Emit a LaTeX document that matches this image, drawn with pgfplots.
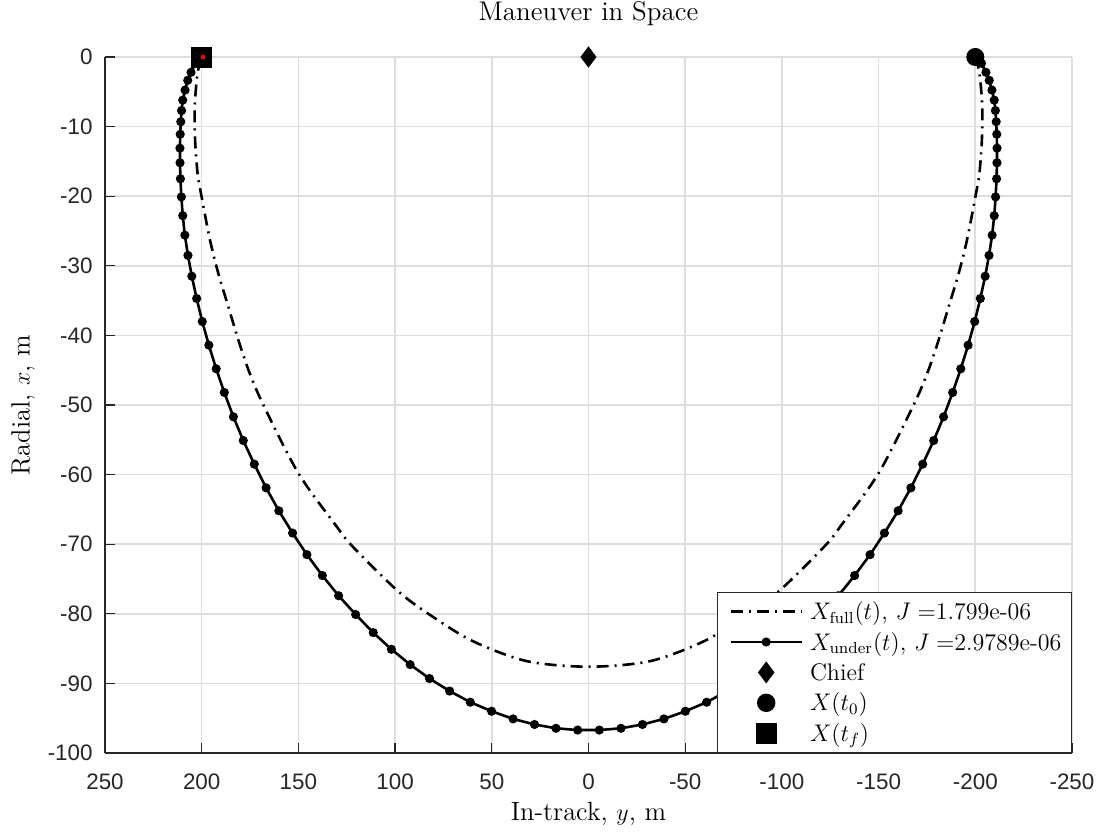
\documentclass[border=0pt]{standalone}
\usepackage{fontspec}
\usepackage{pgfplots}
\pgfplotsset{compat=1.18}
\newfontfamily\arial{Liberation Sans}
\definecolor{axgray}{rgb}{0.15,0.15,0.15}
\definecolor{gridgray}{rgb}{0.87,0.87,0.87}

% legend samples: a 35pt line, a line with a centred mark, a lone mark
\pgfplotsset{
  leg line/.style={legend image code/.code={\path (-3pt,0pt) (37pt,0pt);
    \draw[##1] (0pt,0pt) -- (35.5pt,0pt);}},
  leg linemark/.style={legend image code/.code={\path (-3pt,0pt) (37pt,0pt);
    \draw[##1] (0pt,0pt) -- (35.5pt,0pt);
    \draw[##1] plot coordinates {(17.75pt,0pt)};}},
  leg mark/.style={legend image code/.code={\path (-3pt,0pt) (37pt,0pt);
    \draw[##1] plot coordinates {(17.75pt,0pt)};}},
}

\begin{document}
\begin{tikzpicture}
\begin{axis}[
  scale only axis, width=483.5pt, height=348pt,
  x dir=reverse, xmin=-250, xmax=250, ymin=-100, ymax=0,
  axis x line*=bottom, axis y line*=left,
  axis line style={axgray, line width=0.8pt, -},
  xtick={-250,-200,...,250},
  xticklabels={-250,-200,-150,-100,-50,0,50,100,150,200,250},
  ytick={-100,-90,...,0},
  yticklabels={-100,-90,-80,-70,-60,-50,-40,-30,-20,-10,0},
  tick align=inside, major tick length=5pt,
  tick style={axgray, line width=0.6pt},
  grid=major, major grid style={gridgray, line width=0.8pt},
  ticklabel style={font=\arial\fontsize{11.2}{13}\selectfont, text=axgray},
  xticklabel style={inner sep=0pt, yshift=-10pt},
  yticklabel style={inner sep=0pt, xshift=-6pt},
  title={Maneuver in Space},
  title style={font=\fontsize{13.5}{16}\selectfont, yshift=5.9pt},
  xlabel={In-track, $y$, m}, ylabel={Radial, $x$, m},
  label style={font=\fontsize{13.2}{16}\selectfont},
  xlabel shift=3pt, ylabel shift=3pt,
  clip=false,
  legend cell align=left,
  legend style={at={(1,0)}, anchor=south east, draw=axgray, line width=0.6pt,
    fill=white, font=\fontsize{12}{14}\selectfont,
    inner xsep=3pt, inner ysep=2pt, row sep=0pt,
    nodes={inner ysep=1.6pt, text height=10pt, text depth=2pt}},
]
% full-thrust trajectory
\addplot[black, line width=1.3pt, smooth,
  dash pattern=on 6pt off 3pt on 1pt off 3pt, leg line]
coordinates {
(-200,0) (-202.2,-2.4) (-203.6,-7.2) (-203.4,-12) (-202.1,-16.8) (-200.1,-20)
(-195.7,-26.3) (-191.4,-31.1) (-186.2,-35.9) (-181,-40.7) (-175.5,-45.2)
(-168.1,-50) (-150,-59.8) (-130.1,-67.5) (-122.4,-70.2) (-99.1,-76.6)
(-82.8,-80) (-60,-83.9) (-31.9,-86.8) (0,-87.6)
(31.9,-86.8) (60,-83.9) (82.8,-80) (99.1,-76.6) (122.4,-70.2) (130.1,-67.5)
(150,-59.8) (168.1,-50) (175.5,-45.2) (181,-40.7) (186.2,-35.9) (191.4,-31.1)
(195.7,-26.3) (200.1,-20) (202.1,-16.8) (203.4,-12) (203.6,-7.2) (202.2,-2.4)
(200,0)
};
\addlegendentry{$X_{\mathrm{full}}(t)$, $J=$1.799e-06}
% under-actuated trajectory, one mark per time step
\addplot[black, line width=1.3pt, mark=*, mark size=1.6pt, leg linemark]
coordinates {
(-200,0) (-203.2,-0.9) (-205.5,-2.2) (-207.2,-3.35) (-208.6,-4.75) (-209.8,-6.2)
(-210.4,-7.7) (-210.8,-9.3) (-211.1,-11.1) (-211.25,-13.1) (-211.2,-15.2)
(-211.0,-17.5) (-210.5,-20.1) (-209.8,-22.8) (-208.7,-25.6) (-207.1,-28.5)
(-205.1,-31.5) (-202.6,-34.7) (-199.7,-38.0) (-196.3,-41.4) (-192.5,-44.8)
(-188.3,-48.2) (-183.6,-51.7) (-178.5,-55.1) (-172.8,-58.5) (-166.7,-61.9)
(-160.1,-65.2) (-153.0,-68.4) (-145.6,-71.5) (-137.6,-74.5) (-129.2,-77.4)
(-120.4,-80.1) (-111.3,-82.7) (-101.9,-85.1) (-92.2,-87.3) (-82.2,-89.3)
(-71.8,-91.1) (-61.1,-92.7) (-50.1,-94.0) (-39.0,-95.1) (-27.9,-95.9)
(-16.8,-96.45) (-5.6,-96.7)
(5.6,-96.7) (16.8,-96.45) (27.9,-95.9) (39.0,-95.1) (50.1,-94.0) (61.1,-92.7)
(71.8,-91.1) (82.2,-89.3) (92.2,-87.3) (101.9,-85.1) (111.3,-82.7)
(120.4,-80.1) (129.2,-77.4) (137.6,-74.5) (145.6,-71.5) (153.0,-68.4)
(160.1,-65.2) (166.7,-61.9) (172.8,-58.5) (178.5,-55.1) (183.6,-51.7)
(188.3,-48.2) (192.5,-44.8) (196.3,-41.4) (199.7,-38.0) (202.6,-34.7)
(205.1,-31.5) (207.1,-28.5) (208.7,-25.6) (209.8,-22.8) (210.5,-20.1)
(211.0,-17.5) (211.2,-15.2) (211.25,-13.1) (211.1,-11.1) (210.8,-9.3)
(210.4,-7.7) (209.8,-6.2) (208.6,-4.75) (207.2,-3.35) (205.5,-2.2)
(203.2,-0.9) (200,0)
};
\addlegendentry{$X_{\mathrm{under}}(t)$, $J=$2.9789e-06}
% chief, initial and final states
\addplot[black, only marks, mark=diamond*, mark size=5pt, leg mark]
coordinates {(0,0)};
\addlegendentry{Chief}
\addplot[black, only marks, mark=*, mark size=4.3pt, leg mark]
coordinates {(-200,0)};
\addlegendentry{$X(t_0)$}
\addplot[black, only marks, mark=square*, mark size=5pt, leg mark]
coordinates {(200,0)};
\addlegendentry{$X(t_f)$}
\addplot[red, only marks, mark=square*, mark size=0.7pt, forget plot]
coordinates {(199.4,0)};
\end{axis}
\pgfresetboundingbox
\path ([xshift=-52.5pt,yshift=-39pt]current axis.south west)
  rectangle ([xshift=14.5pt,yshift=28.5pt]current axis.north east);
\end{tikzpicture}
\end{document}
